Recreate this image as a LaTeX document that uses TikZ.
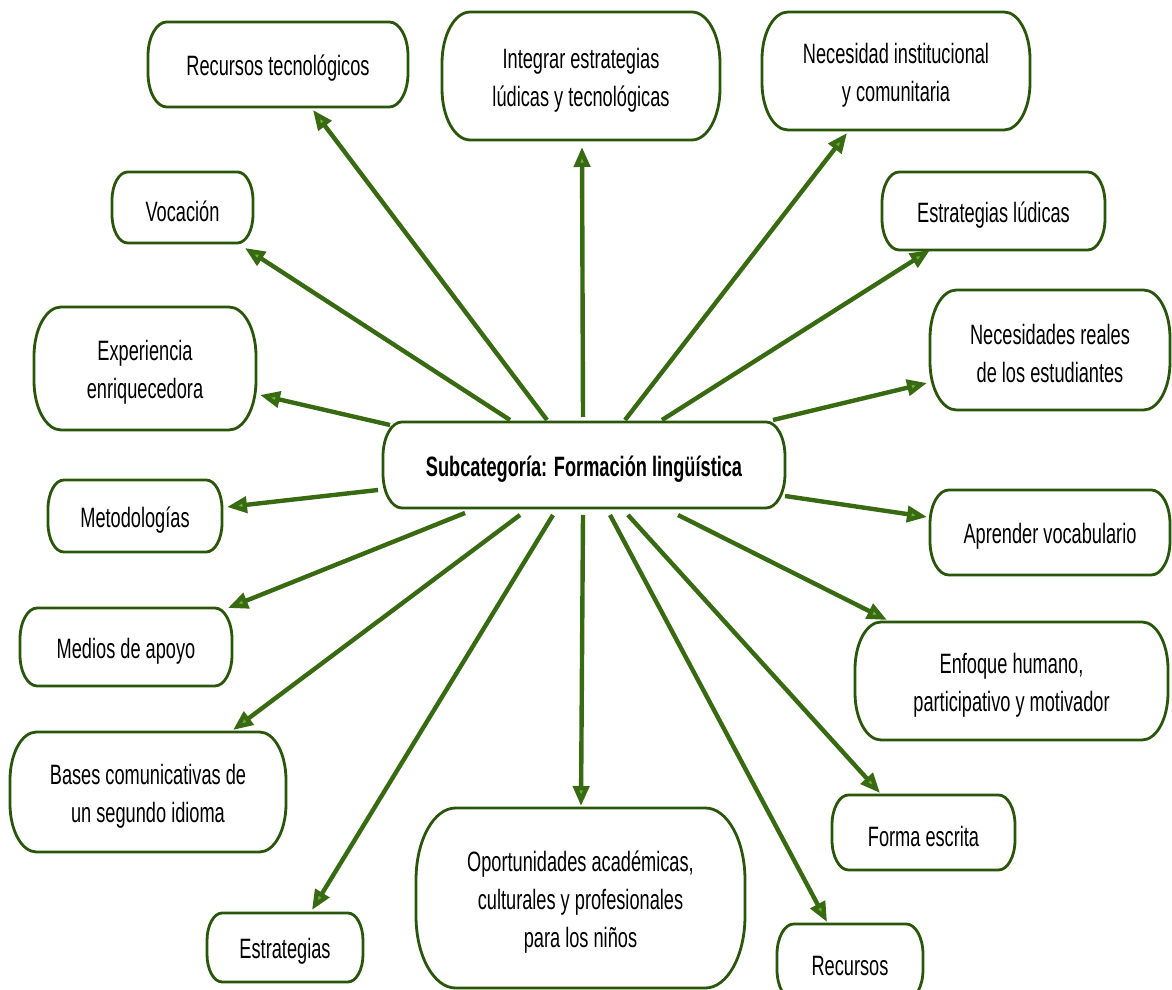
\documentclass[tikz,border=0pt]{standalone}
\usepackage{fontspec}
\setmainfont{Liberation Sans}[FakeStretch=0.65]
\usetikzlibrary{arrows.meta,calc}

\definecolor{boxgreen}{HTML}{2A560B}
\definecolor{linkgreen}{HTML}{386A12}
\definecolor{tipgreen}{HTML}{6CAE3B}

\tikzset{
  boxline/.style={draw=boxgreen, line width=2.8pt, fill=white},
  holder/.style={inner sep=0pt, outer sep=0pt, shape=rectangle},
  label/.style={align=center, inner sep=0pt, text=black,
    font=\fontsize{28}{38}\selectfont},
  link/.style={draw=linkgreen, line width=4.4pt,
    -{Triangle[length=20pt,width=16pt,fill=tipgreen]}},
}

% #1 name, #2 cx, #3 cy, #4 width, #5 height, #6 text
\newcommand\gbox[6]{%
  \pgfmathsetmacro\brx{0.22*#5}%
  \pgfmathsetmacro\bry{0.4*#5}%
  \node[holder, minimum width=#4pt, minimum height=#5pt] (#1) at (#2,#3) {};
  \draw[boxline]
    ($(#1.north west)+(\brx pt,0)$) -- ($(#1.north east)+(-\brx pt,0)$)
    arc[start angle=90, end angle=0, x radius=\brx pt, y radius=\bry pt]
    -- ($(#1.south east)+(0,\bry pt)$)
    arc[start angle=0, end angle=-90, x radius=\brx pt, y radius=\bry pt]
    -- ($(#1.south west)+(\brx pt,0)$)
    arc[start angle=270, end angle=180, x radius=\brx pt, y radius=\bry pt]
    -- ($(#1.north west)+(0,-\bry pt)$)
    arc[start angle=180, end angle=90, x radius=\brx pt, y radius=\bry pt]
    -- cycle;
  \node[label] (#1-t) at ([yshift=-4pt]#1.center) {#6};
}

\begin{document}
\begin{tikzpicture}[x=1pt, y=1pt]
\clip (0,0) rectangle (1172,990);
\fill[white] (0,0) rectangle (1172,990);

% outer ring of topics
\gbox{rt}{278}{925.5}{260}{85}{Recursos tecnológicos}
\gbox{in}{581}{914}{278}{128}{Integrar estrategias\\lúdicas y tecnológicas}
\gbox{ne}{896}{919}{268}{118}{Necesidad institucional\\y comunitaria}
\gbox{vo}{182.5}{782.5}{141}{71}{Vocación}
\gbox{el}{993.5}{779}{223}{78}{Estrategias lúdicas}
\gbox{ex}{145}{621.5}{222}{123}{Experiencia\\enriquecedora}
\gbox{nr}{1050}{640}{240}{120}{Necesidades reales\\de los estudiantes}
\gbox{me}{135}{474}{174}{72}{Metodologías}
\gbox{av}{1050}{457.5}{240}{85}{Aprender vocabulario}
\gbox{ma}{126}{343}{212}{78}{Medios de apoyo}
\gbox{eh}{1011.5}{309}{313}{118}{Enfoque humano,\\participativo y motivador}
\gbox{bc}{148}{198}{276}{120}{Bases comunicativas de\\un segundo idioma}
\gbox{fe}{923.5}{157.5}{183}{75}{Forma escrita}
\gbox{es}{285}{42.5}{156}{69}{Estrategias}
\gbox{op}{580.5}{92}{329}{180}{Oportunidades académicas,\\culturales y profesionales\\para los niños}
\gbox{re}{850}{28}{146}{76}{Recursos}

% central subcategory
\gbox{c}{584}{525}{402}{86}{\bfseries Subcategoría: Formación lingüística}

% links from the centre, upper side
\draw[link] ([shift={(-74,2)}]c.north) -- ([shift={(-8,-5)}]vo.south east);
\draw[link] ([shift={(-37,2)}]c.north) -- ([shift={(35,-3)}]rt.south);
\draw[link] ([shift={(-1,5)}]c.north) -- ([shift={(1,-7)}]in.south);
\draw[link] ([shift={(41,2)}]c.north) -- ([shift={(-49,-3)}]ne.south);
\draw[link] ([shift={(78,2)}]c.north) -- ([shift={(48,0)}]el.south west);
\draw[link] ([shift={(189,2)}]c.north) -- ([shift={(-3,-33)}]nr.west);
\draw[link] ([shift={(7,-3)}]c.north west) -- ([shift={(4,-26.5)}]ex.east);
% sides
\draw[link] ([shift={(-5,-25)}]c.west) -- ([shift={(5,9)}]me.east);
\draw[link] ([shift={(0,-31)}]c.east) -- ([shift={(-3,15.5)}]av.west);
% lower side
\draw[link] ([shift={(-119,-5)}]c.south) -- ([shift={(-4,0)}]ma.north east);
\draw[link] ([shift={(-64,-7)}]c.south) -- ([shift={(-53,2)}]bc.north east);
\draw[link] ([shift={(-31,-7)}]c.south) -- ([shift={(27,3)}]es.north);
\draw[link] ([shift={(-1,-7)}]c.south) -- ([shift={(0.5,2)}]op.north);
\draw[link] ([shift={(26,-7)}]c.south) -- ([shift={(-23,2)}]re.north);
\draw[link] ([shift={(44,-7)}]c.south) -- ([shift={(-43.5,2)}]fe.north);
\draw[link] ([shift={(94,-7)}]c.south) -- ([shift={(32,2)}]eh.north west);
\end{tikzpicture}
\end{document}
